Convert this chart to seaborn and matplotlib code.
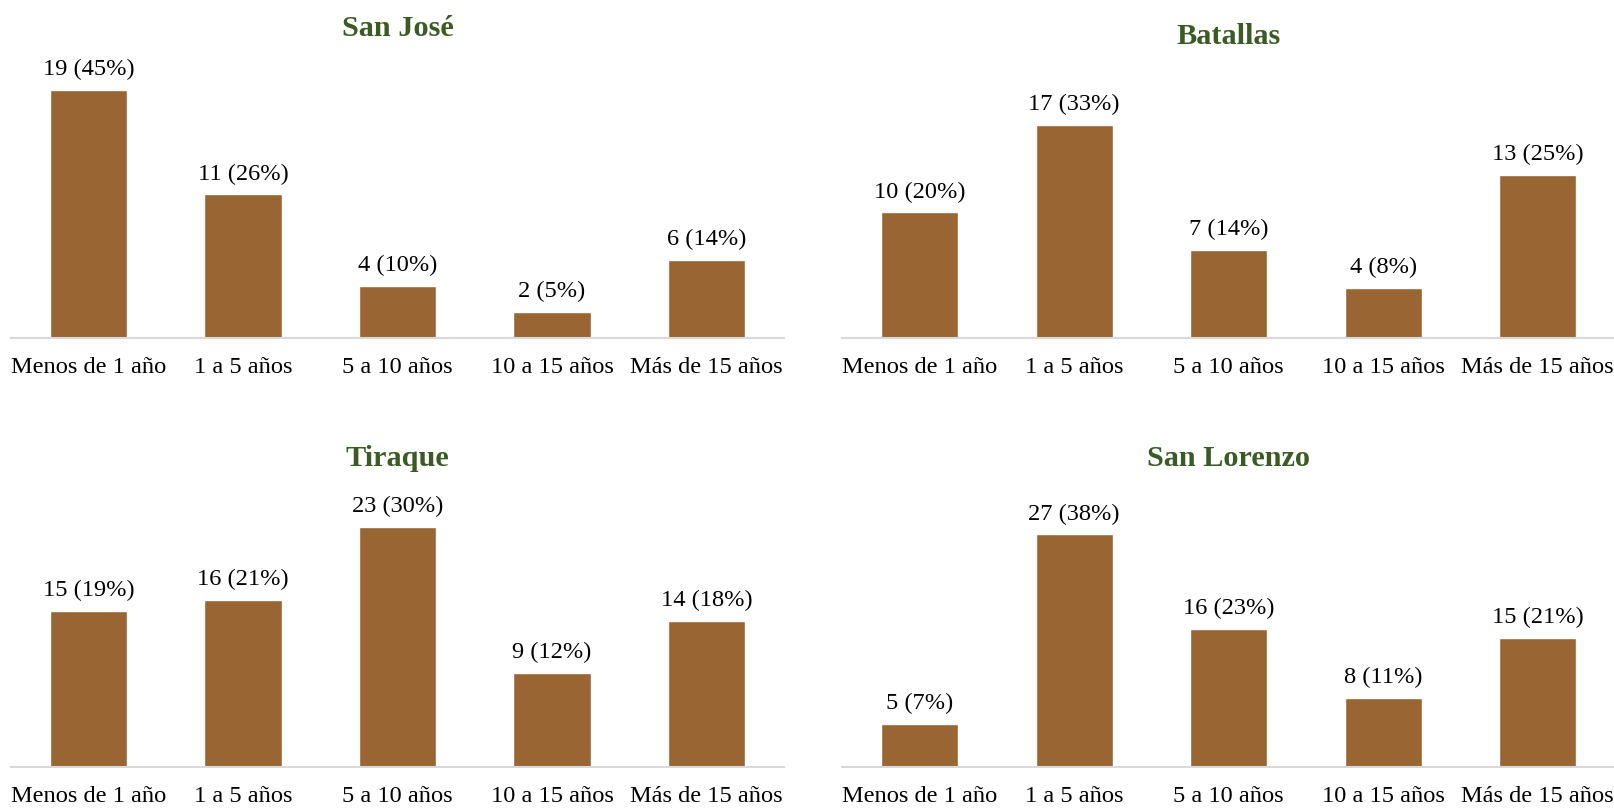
import matplotlib
matplotlib.use("Agg")
import matplotlib.pyplot as plt
import seaborn as sns
import pandas as pd

categories = ["Menos de 1 año", "1 a 5 años", "5 a 10 años", "10 a 15 años", "Más de 15 años"]
titles = ["San José", "Batallas", "Tiraque", "San Lorenzo"]
san_jose = [19, 11, 4, 2, 6]
san_jose_pct = [45, 26, 10, 5, 14]
batallas = [10, 17, 7, 4, 13]
batallas_pct = [20, 33, 14, 8, 25]
tiraque = [15, 16, 23, 9, 14]
tiraque_pct = [19, 21, 30, 12, 18]
san_lorenzo = [5, 27, 16, 8, 15]
san_lorenzo_pct = [7, 38, 23, 11, 21]

sns.set_theme(style="white")
plt.rcParams["font.family"] = ["Liberation Serif", "DejaVu Serif"]

W, H = 1615, 808
fig = plt.figure(figsize=(W / 100, H / 100), dpi=100)

BAR = "#996633"
TITLE = "#3B5B25"

panels = [
    (titles[0], san_jose, san_jose_pct, 11.3, 338, 13.06, 29),
    (titles[1], batallas, batallas_pct, 842.5, 338, 12.55, 36),
    (titles[2], tiraque, tiraque_pct, 11.3, 767, 10.43, 459),
    (titles[3], san_lorenzo, san_lorenzo_pct, 842.5, 767, 8.62, 459),
]
AW = 772.5
AH = 250

for title, vals, pcts, left, base, ppu, ty in panels:
    ax = fig.add_axes([left / W, 1 - base / H, AW / W, AH / H])
    df = pd.DataFrame({"cat": categories, "val": vals})
    sns.barplot(data=df, x="cat", y="val", color=BAR, saturation=1, width=0.5, ax=ax)
    ax.set_ylim(0, AH / ppu)
    ax.set_xlim(-0.5, 4.5)
    labels = [f"{v} ({p}%)" for v, p in zip(vals, pcts)]
    ax.bar_label(ax.containers[0], labels=labels, padding=7, fontsize=17.6, color="black", clip_on=False)
    for s in ["top", "right", "left"]:
        ax.spines[s].set_visible(False)
    ax.spines["bottom"].set_color("#D9D9D9")
    ax.spines["bottom"].set_linewidth(1.5)
    ax.set_yticks([])
    ax.set_xlabel("")
    ax.set_ylabel("")
    ax.tick_params(axis="x", length=0, pad=14, labelsize=17.6, colors="black")
    ax.patch.set_alpha(0)
    fig.text((left + AW / 2) / W, 1 - ty / H, title, ha="center", va="center",
             fontsize=21.8, fontweight="bold", color=TITLE)

fig.savefig("out.png", dpi=100)
